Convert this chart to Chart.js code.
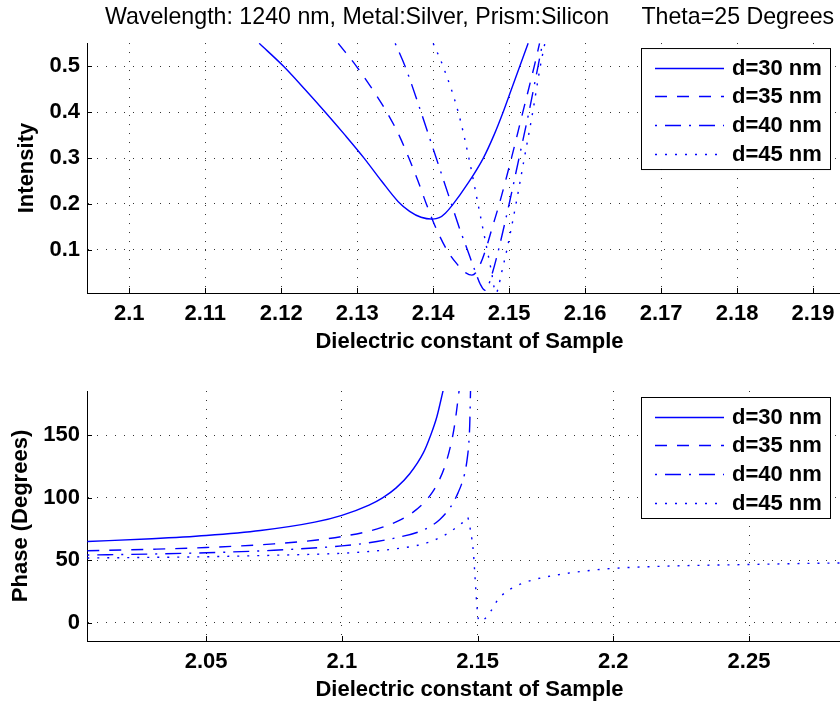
<!DOCTYPE html>
<html>
<head>
<meta charset="utf-8">
<script src="https://cdn.jsdelivr.net/npm/chart.js@4.4.1/dist/chart.umd.min.js"></script>
<style>
  html, body { margin: 0; padding: 0; background: #fff; overflow: hidden; }
  .plot { position: absolute; left: 0; }
</style>
</head>
<body>
<div class="plot" style="top:0"><canvas id="intensityChart" width="852" height="355" style="width:852px;height:355px"></canvas></div>
<div class="plot" style="top:355px"><canvas id="phaseChart" width="852" height="352" style="width:852px;height:352px"></canvas></div>
<script>
// values, [dielectric constant, value]
const seriesLabels = ['d=30 nm', 'd=35 nm', 'd=40 nm', 'd=45 nm'];

const intensityD30 = [
    [2.1171, 0.55], [2.1203, 0.50], [2.1231, 0.45], [2.1258, 0.40], [2.1284, 0.35], [2.1309, 0.30],
    [2.1332, 0.25], [2.1354, 0.205], [2.1369, 0.184], [2.1384, 0.171], [2.1399, 0.167], [2.1408, 0.170],
    [2.1416, 0.180], [2.1425, 0.197], [2.1447, 0.248], [2.1466, 0.30], [2.1480, 0.35], [2.1492, 0.40],
    [2.1503, 0.45], [2.1514, 0.50], [2.1525, 0.55]
];
const intensityD35 = [
    [2.1275, 0.55], [2.1299, 0.50], [2.1320, 0.45], [2.1339, 0.40], [2.1355, 0.35], [2.1368, 0.30],
    [2.1380, 0.25], [2.1391, 0.20], [2.1403, 0.15], [2.1418, 0.10], [2.1431, 0.07], [2.1443, 0.05],
    [2.1451, 0.045], [2.1456, 0.05], [2.1461, 0.065], [2.1469, 0.10], [2.1478, 0.15], [2.1487, 0.20],
    [2.1503, 0.30], [2.1518, 0.40], [2.1533, 0.50], [2.1540, 0.55]
];
const intensityD40 = [
    [2.1350, 0.55], [2.1363, 0.50], [2.1384, 0.40], [2.1404, 0.30], [2.1424, 0.20], [2.1434, 0.15],
    [2.1445, 0.10], [2.1456, 0.05], [2.1462, 0.025], [2.1468, 0.012], [2.1472, 0.02], [2.1478, 0.05],
    [2.1486, 0.10], [2.1500, 0.20], [2.1513, 0.30], [2.1526, 0.40], [2.1538, 0.50], [2.1544, 0.55]
];
const intensityD45 = [
    [2.1400, 0.55], [2.1413, 0.50], [2.1433, 0.40], [2.1447, 0.30], [2.1459, 0.20], [2.1471, 0.10],
    [2.1477, 0.05], [2.1480, 0.02], [2.1483, 0.006], [2.1486, 0.02], [2.1490, 0.05], [2.1497, 0.10],
    [2.1509, 0.20], [2.1520, 0.30], [2.1531, 0.40], [2.1541, 0.50], [2.1547, 0.55]
];

const phaseD30 = [
    [2.0062, 65], [2.03, 67.2], [2.05, 69.8], [2.07, 73.8], [2.09, 80.5], [2.1, 86], [2.11, 94.2],
    [2.115, 100], [2.12, 108], [2.125, 119.3], [2.13, 136], [2.1325, 149], [2.135, 165], [2.1373, 186]
];
const phaseD35 = [
    [2.0062, 57.6], [2.03, 58.8], [2.05, 60.2], [2.075, 63.1], [2.09, 66], [2.1, 69], [2.11, 73.3],
    [2.115, 76.5], [2.12, 80.7], [2.125, 86.6], [2.13, 95.5], [2.1335, 105], [2.136, 114.8],
    [2.138, 125.7], [2.14, 141.2], [2.1415, 157.8], [2.1432, 186]
];
const phaseD40 = [
    [2.0062, 54.2], [2.03, 55], [2.05, 56], [2.075, 58], [2.1, 61.5], [2.11, 64], [2.12, 68],
    [2.128, 72.5], [2.1325, 77], [2.136, 82.5], [2.1388, 89], [2.141, 96], [2.1428, 104],
    [2.1441, 111], [2.1452, 119], [2.1461, 130], [2.1467, 142], [2.1471, 158], [2.1474, 186]
];
const phaseD45 = [
    [2.0062, 51.8], [2.03, 52.3], [2.05, 52.8], [2.075, 54], [2.1, 55.6], [2.11, 57], [2.12, 59.2],
    [2.128, 62], [2.1325, 64.8], [2.1369, 69], [2.1399, 72.8], [2.1428, 77.5], [2.1448, 81],
    [2.1457, 84], [2.1463, 84.5], [2.1468, 81], [2.1473, 75], [2.1479, 67], [2.1485, 55], [2.1489, 42],
    [2.1493, 28], [2.1497, 15], [2.1501, 5], [2.1507, 1.2], [2.1515, 1.5], [2.1535, 5], [2.1557, 12],
    [2.1575, 18.6], [2.1601, 24], [2.1638, 29], [2.17, 34], [2.18, 38.5], [2.19, 41.5], [2.2, 43.5],
    [2.22, 45.3], [2.25, 46.6], [2.27, 47.4], [2.288, 48]
];

const intensityXTicks = [2.1, 2.11, 2.12, 2.13, 2.14, 2.15, 2.16, 2.17, 2.18, 2.19];
const intensityYTicks = [0.1, 0.2, 0.3, 0.4, 0.5];
const phaseXTicks = [2.05, 2.1, 2.15, 2.2, 2.25];
const phaseYTicks = [0, 50, 100, 150];

const lineDashes = [[], [12, 10], [2, 8, 16, 8], [2, 8]];
const FONT = '"Liberation Sans", Arial, Helvetica, sans-serif';

Chart.defaults.font.family = FONT;
Chart.defaults.color = '#000';

const boldFont = { size: 22, weight: 'bold' };

// MATLAB-style boxed legend inside the axes
const boxLegend = {
    id: 'boxLegend',
    afterDatasetsDraw(chart, args, opts) {
        const { ctx, chartArea } = chart;
        const x = chartArea.left + opts.left;
        const y = chartArea.top + opts.top;
        ctx.save();
        ctx.fillStyle = '#fff';
        ctx.fillRect(x, y, opts.width, opts.height);
        ctx.strokeStyle = '#000';
        ctx.lineWidth = 1;
        ctx.setLineDash([]);
        ctx.strokeRect(x + 0.5, y + 0.5, opts.width, opts.height);
        ctx.font = 'bold 22px ' + FONT;
        ctx.textBaseline = 'middle';
        chart.data.datasets.forEach((ds, i) => {
            const ly = Math.round(y + opts.firstRow + i * opts.rowGap) + 0.5;
            ctx.beginPath();
            ctx.setLineDash(ds.borderDash);
            ctx.strokeStyle = ds.borderColor;
            ctx.lineWidth = ds.borderWidth;
            ctx.moveTo(x + 14, ly);
            ctx.lineTo(x + 83, ly);
            ctx.stroke();
            ctx.setLineDash([]);
            ctx.fillStyle = '#000';
            ctx.fillText(ds.label, x + 91, ly);
        });
        ctx.restore();
    }
};

// tick marks pointing into the axes
const innerTicks = {
    id: 'innerTicks',
    beforeDatasetsDraw(chart) {
        const { ctx, chartArea, scales: { x, y } } = chart;
        ctx.save();
        ctx.strokeStyle = '#000';
        ctx.lineWidth = 1;
        ctx.beginPath();
        x.ticks.forEach(t => {
            const px = Math.round(x.getPixelForValue(t.value)) + 0.5;
            ctx.moveTo(px, chartArea.bottom);
            ctx.lineTo(px, chartArea.bottom - 5);
        });
        y.ticks.forEach(t => {
            const py = Math.round(y.getPixelForValue(t.value)) + 0.5;
            ctx.moveTo(chartArea.left, py);
            ctx.lineTo(chartArea.left + 5, py);
        });
        ctx.stroke();
        ctx.restore();
    }
};

const makeDatasets = (list) => list.map((pts, i) => ({
    label: seriesLabels[i],
    data: pts.map(p => ({ x: p[0], y: p[1] })),
    borderColor: '#0000ff',
    borderWidth: 1.4,
    borderDash: lineDashes[i],
    pointRadius: 0,
    cubicInterpolationMode: 'monotone',
    fill: false
}));

const grid = { color: 'rgba(0,0,0,0.8)', lineWidth: 1, drawTicks: false };
const border = { color: '#000', width: 1, dash: [1, 8] };

const makeScales = (cfg) => ({
    x: {
        type: 'linear',
        min: cfg.xMin,
        max: cfg.xMax,
        afterBuildTicks: s => { s.ticks = cfg.xTicks.map(v => ({ value: v })); },
        afterFit: s => { s.height = cfg.xHeight; },
        ticks: { font: boldFont, padding: 8, maxRotation: 0, autoSkip: false, callback: v => String(v) },
        grid: grid,
        border: border,
        title: { display: true, text: 'Dielectric constant of Sample', font: boldFont, padding: { top: 0, bottom: cfg.xTitlePad } }
    },
    y: {
        type: 'linear',
        min: cfg.yMin,
        max: cfg.yMax,
        afterBuildTicks: s => { s.ticks = cfg.yTicks.map(v => ({ value: v })); },
        afterFit: s => { s.width = 87; },
        ticks: { font: boldFont, padding: 7, autoSkip: false, callback: v => String(v) },
        grid: grid,
        border: border,
        title: { display: true, text: cfg.yTitle, font: boldFont, padding: { top: cfg.yTitlePad, bottom: 0 } }
    }
});

const legendBox = (top) => ({ left: 554, top: top, width: 189, height: 121, firstRow: 19.5, rowGap: 28.7 });

new Chart(document.getElementById('intensityChart'), {
    type: 'line',
    data: { datasets: makeDatasets([intensityD30, intensityD35, intensityD40, intensityD45]) },
    options: {
        responsive: false,
        animation: false,
        devicePixelRatio: 1,
        layout: { padding: 0 },
        scales: makeScales({
            xMin: 2.09443, xMax: 2.19513, xTicks: intensityXTicks, xHeight: 62, xTitlePad: 0,
            yMin: 0.006, yMax: 0.5507, yTicks: intensityYTicks, yTitle: 'Intensity', yTitlePad: 13.5
        }),
        plugins: {
            legend: { display: false },
            tooltip: { enabled: false },
            title: {
                display: true,
                fullSize: false,
                text: 'Wavelength: 1240 nm, Metal:Silver, Prism:Silicon     Theta=25 Degrees',
                font: { size: 23.2, weight: 'normal' },
                color: '#000',
                padding: { top: 3.3, bottom: 11.9 }
            },
            boxLegend: legendBox(5)
        }
    },
    plugins: [innerTicks, boxLegend]
});

new Chart(document.getElementById('phaseChart'), {
    type: 'line',
    data: { datasets: makeDatasets([phaseD30, phaseD35, phaseD40, phaseD45]) },
    options: {
        responsive: false,
        animation: false,
        devicePixelRatio: 1,
        layout: { padding: { top: 36, left: 0, right: 0, bottom: 0 } },
        scales: makeScales({
            xMin: 2.0061, xMax: 2.28794, xTicks: phaseXTicks, xHeight: 66, xTitlePad: 3.8,
            yMin: -14.7, yMax: 185.6, yTicks: phaseYTicks, yTitle: 'Phase (Degrees)', yTitlePad: 7.4
        }),
        plugins: {
            legend: { display: false },
            tooltip: { enabled: false },
            boxLegend: legendBox(6)
        }
    },
    plugins: [innerTicks, boxLegend]
});
</script>
</body>
</html>
